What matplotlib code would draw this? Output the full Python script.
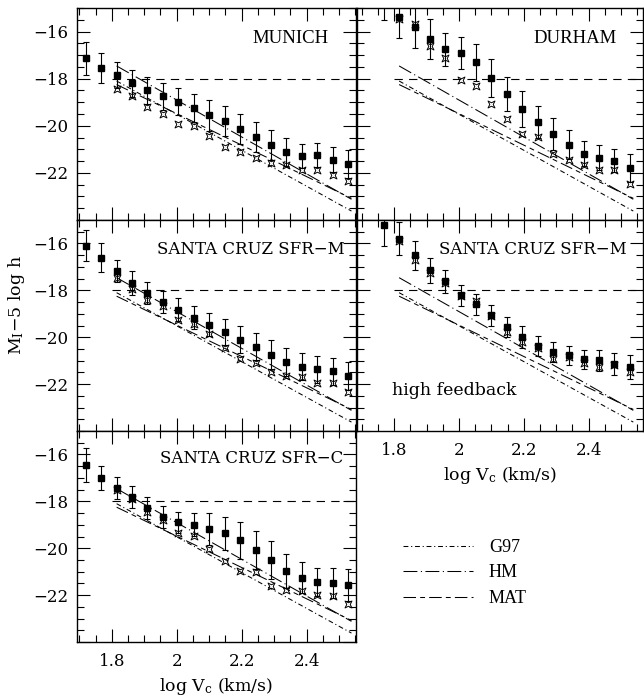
import numpy as np
import matplotlib
matplotlib.use("Agg")
import matplotlib.pyplot as plt
from matplotlib.path import Path
from matplotlib.ticker import MultipleLocator, FuncFormatter

plt.rcParams['font.family'] = ['DejaVu Serif']
plt.rcParams['mathtext.fontset'] = 'dejavuserif'
plt.rcParams['lines.scale_dashes'] = False
plt.rcParams['axes.linewidth'] = 1.0

nan = np.nan

# bin centres in log Vc (km/s)
log_vc = [1.720, 1.768, 1.815, 1.863, 1.910, 1.958, 2.005, 2.053, 2.100,
          2.148, 2.195, 2.243, 2.290, 2.338, 2.385, 2.433, 2.480, 2.528]

# MUNICH
munich_m = [-17.13, -17.55, -17.86, -18.19, -18.50, -18.75, -18.97, -19.26, -19.56,
            -19.81, -20.14, -20.47, -20.81, -21.10, -21.27, -21.24, -21.44, -21.62]
munich_err = [0.70, 0.62, 0.55, 0.57, 0.57, 0.56, 0.56, 0.59, 0.67,
              0.63, 0.62, 0.64, 0.64, 0.60, 0.51, 0.49, 0.54, 0.58]
munich_alt = [nan, nan, -18.44, -18.75, -19.22, -19.49, -19.91, -19.99, -20.42,
              -20.92, -21.13, -21.35, -21.58, -21.68, -21.89, -21.89, -22.10, -22.33]

# DURHAM
durham_m = [nan, -14.80, -15.40, -15.81, -16.32, -16.75, -16.92, -17.31, -17.97,
            -18.65, -19.29, -19.84, -20.35, -20.80, -21.18, -21.36, -21.48, -21.78]
durham_err = [nan, 0.70, 0.88, 0.87, 0.84, 0.70, 0.68, 0.80, 0.82,
              0.73, 0.75, 0.66, 0.66, 0.62, 0.53, 0.53, 0.50, 0.59]
durham_alt = [nan, nan, -15.45, -15.70, -16.61, -17.13, -18.05, -18.30, -19.06,
              -19.71, -20.35, -20.49, -21.19, -21.44, -21.65, -21.86, -21.86, -22.46]

# SANTA CRUZ SFR-M
sfrm_m = [-16.09, -16.61, -17.18, -17.69, -18.11, -18.50, -18.82, -19.16, -19.46,
          -19.77, -20.10, -20.40, -20.74, -21.06, -21.26, -21.37, -21.46, -21.65]
sfrm_err = [0.65, 0.61, 0.48, 0.50, 0.48, 0.48, 0.48, 0.48, 0.49,
            0.55, 0.58, 0.58, 0.61, 0.58, 0.57, 0.58, 0.58, 0.59]
sfrm_alt = [nan, nan, -17.46, -17.93, -18.40, -18.68, -19.25, -19.45, -19.87,
            -20.44, -20.95, -21.09, -21.48, -21.66, -21.71, -21.97, -21.97, -22.33]

# SANTA CRUZ SFR-M, high feedback
sfrm_hf_m = [nan, -15.23, -15.80, -16.51, -17.15, -17.62, -18.21, -18.60, -19.06,
             -19.56, -19.99, -20.38, -20.63, -20.77, -20.95, -20.98, -21.15, -21.26]
sfrm_hf_err = [nan, 0.86, 0.70, 0.62, 0.54, 0.50, 0.45, 0.46, 0.44,
               0.42, 0.46, 0.44, 0.42, 0.40, 0.41, 0.44, 0.48, 0.51]
sfrm_hf_alt = [nan, nan, -15.91, -16.69, -17.25, -17.70, -18.25, -18.46, -19.10,
               -19.77, -20.20, -20.45, -20.95, -20.85, -21.12, -21.26, -21.20, -21.48]

# SANTA CRUZ SFR-C
sfrc_m = [-16.44, -17.01, -17.43, -17.81, -18.28, -18.66, -18.89, -18.99, -19.17,
          -19.37, -19.67, -20.08, -20.50, -20.97, -21.25, -21.43, -21.49, -21.57]
sfrc_err = [0.72, 0.50, 0.47, 0.46, 0.48, 0.46, 0.45, 0.50, 0.68,
            0.71, 0.78, 0.81, 0.81, 0.71, 0.67, 0.59, 0.63, 0.68]
sfrc_alt = [nan, nan, -17.50, -17.88, -18.47, -18.81, -19.34, -19.48, -20.05,
            -20.54, -20.99, -21.03, -21.60, -21.77, -21.81, -22.00, -22.03, -22.39]

# observed Tully-Fisher relations: magnitudes at the two ends of the fitted range
tf_logv = [1.815, 2.538]
tf_g97 = [-18.10, -23.62]
tf_hm = [-17.46, -23.12]
tf_mat = [-18.25, -23.08]
m_limit = -18.0
limit_logv = [1.80, 2.60]

# labelled magnitude ticks
m_tick_labels = [-16, -18, -20, -22]

# open four-pointed symbol
star_verts = [(-1, -1), (0, -0.5), (1, -1), (0.5, 0), (1, 1), (0, 0.5),
              (-1, 1), (-0.5, 0), (-1, -1)]
star_codes = [Path.MOVETO] + [Path.LINETO] * 7 + [Path.CLOSEPOLY]
star_marker = Path(star_verts, star_codes)

ls_g97 = (0, (3.5, 2.0, 0.8, 2.0))
ls_hm = (0, (10.0, 2.5, 0.8, 2.5))
ls_mat = (0, (9.0, 3.0, 3.5, 3.0))

W, H = 644, 700
fig = plt.figure(figsize=(W / 100, H / 100), dpi=100)

cols = {0: (77, 356, (1.693, 2.552)), 1: (357, 643, (1.685, 2.568))}
rows = {0: (8, 220), 1: (220, 431), 2: (431, 642)}


def fmt_x(v, pos):
    return f"{v:g}".replace('-', '\u2212')


def fmt_y(v, pos):
    if round(v) not in m_tick_labels:
        return ''
    return f"{v:g}".replace('-', '\u2212')


def make_axes(r, c):
    x0, x1, xl = cols[c]
    y0, y1 = rows[r]
    ax = fig.add_axes([x0 / W, 1 - y1 / H, (x1 - x0) / W, (y1 - y0) / H])
    ax.set_xlim(*xl)
    ax.set_ylim(-24, -15)
    ax.xaxis.set_major_locator(MultipleLocator(0.2))
    ax.xaxis.set_minor_locator(MultipleLocator(0.05))
    ax.yaxis.set_major_locator(MultipleLocator(2))
    ax.yaxis.set_minor_locator(MultipleLocator(0.5))
    ax.xaxis.set_major_formatter(FuncFormatter(fmt_x))
    ax.yaxis.set_major_formatter(FuncFormatter(fmt_y))
    ax.tick_params(which='both', direction='in', top=True, right=True,
                   width=0.8, labelsize=12)
    ax.tick_params(which='major', length=9.5)
    ax.tick_params(which='minor', length=5)
    ax.tick_params(axis='x', pad=8)
    ax.tick_params(axis='y', pad=6)
    return ax


def draw_panel(ax, m, err, alt):
    ax.plot(limit_logv, [m_limit, m_limit], color='k', lw=0.8, ls=(0, (6, 4.5)))
    g97, = ax.plot(tf_logv, tf_g97, color='k', lw=0.75, ls=ls_g97)
    hm, = ax.plot(tf_logv, tf_hm, color='k', lw=0.75, ls=ls_hm)
    mat, = ax.plot(tf_logv, tf_mat, color='k', lw=0.75, ls=ls_mat)
    ax.errorbar(log_vc, m, yerr=err, fmt='s', ms=4, color='k', ecolor='k',
                elinewidth=0.8, capsize=2.2, capthick=0.8)
    ax.plot(log_vc, alt, ls='none', marker=star_marker, ms=5, mfc='none',
            mec='k', mew=0.7)
    return g97, hm, mat


label_font = dict(family='Liberation Serif', fontsize=13.5)
sc_font = dict(family='DejaVu Serif', fontsize=12)

ax = make_axes(0, 0)
handles = draw_panel(ax, munich_m, munich_err, munich_alt)
ax.text(0.90, 0.858, 'MUNICH', transform=ax.transAxes, ha='right', va='center', **label_font)
ax.tick_params(axis='x', labelbottom=False)

ax = make_axes(0, 1)
draw_panel(ax, durham_m, durham_err, durham_alt)
ax.text(0.909, 0.856, 'DURHAM', transform=ax.transAxes, ha='right', va='center', **label_font)
ax.tick_params(axis='x', labelbottom=False)
ax.tick_params(axis='y', labelleft=False)

ax = make_axes(1, 0)
draw_panel(ax, sfrm_m, sfrm_err, sfrm_alt)
ax.text(0.96, 0.86, 'SANTA CRUZ SFR\u2212M', transform=ax.transAxes, ha='right', va='center', **sc_font)
ax.tick_params(axis='x', labelbottom=False)

ax = make_axes(1, 1)
draw_panel(ax, sfrm_hf_m, sfrm_hf_err, sfrm_hf_alt)
ax.text(0.944, 0.858, 'SANTA CRUZ SFR\u2212M', transform=ax.transAxes, ha='right', va='center', **sc_font)
ax.text(0.123, 0.19, 'high feedback', transform=ax.transAxes, ha='left', va='center', fontsize=12.5)
ax.tick_params(axis='y', labelleft=False)
ax.set_xlabel(r'log V$_\mathregular{c}$ (km/s)', fontsize=12.5, labelpad=4)

ax = make_axes(2, 0)
draw_panel(ax, sfrc_m, sfrc_err, sfrc_alt)
ax.text(0.953, 0.87, 'SANTA CRUZ SFR\u2212C', transform=ax.transAxes, ha='right', va='center', **sc_font)
ax.set_xlabel(r'log V$_\mathregular{c}$ (km/s)', fontsize=12.5, labelpad=4)

fig.text(0.026, 1 - 305 / H, r'$\mathregular{M_I}$' + '\u22125 log h', rotation=90,
         ha='center', va='center', fontsize=12.5)

fig.legend(handles, ['G97', 'HM', 'MAT'], loc='upper left',
           bbox_to_anchor=(403 / W, 1 - 539 / H), frameon=False,
           borderpad=0, borderaxespad=0, handlelength=3.9, handletextpad=0.85,
           labelspacing=0.47, prop=dict(family='Liberation Serif', size=13))

fig.savefig('out.png', dpi=100)
